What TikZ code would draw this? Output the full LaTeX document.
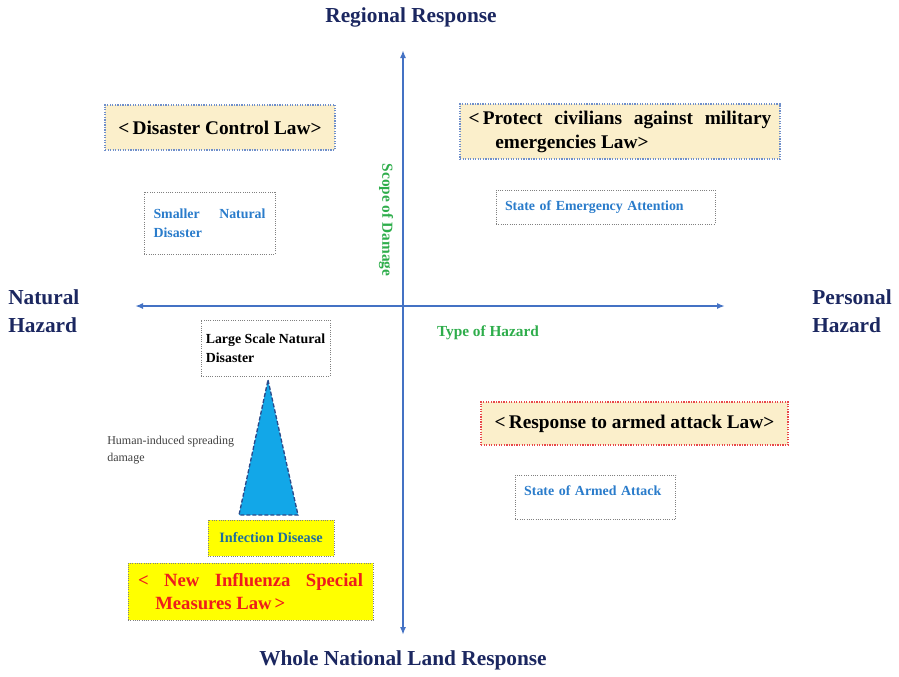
\documentclass[tikz,border=0pt]{standalone}
\usepackage{fontspec}
\setmainfont{Liberation Serif}
\usepackage{xcolor}
\definecolor{axisBlue}{HTML}{4472C4}
\definecolor{titleNavy}{HTML}{1B2760}
\definecolor{labelGreen}{HTML}{2EAD4B}
\definecolor{stateBlue}{HTML}{2A7CCB}
\definecolor{lawCream}{HTML}{FBEFCB}
\definecolor{lawBorder}{HTML}{6F8FCB}
\definecolor{armedRed}{HTML}{E8484A}
\definecolor{fluYellow}{HTML}{FFFF00}
\definecolor{fluRed}{HTML}{EE1C1C}
\definecolor{triBlue}{HTML}{12A7E8}
\definecolor{triEdge}{HTML}{2B4A8A}
\definecolor{infectTeal}{HTML}{1F6E9E}
\definecolor{softGray}{HTML}{808080}
\definecolor{noteGray}{HTML}{404040}
\usetikzlibrary{arrows.meta}

\begin{document}
\begin{tikzpicture}[x=0.75pt, y=-0.75pt, every node/.style={font=\bfseries},
    lawbox/.style={draw=lawBorder, densely dotted, line width=0.9pt, fill=lawCream, inner sep=0pt,
                   font=\fontsize{14.5}{18}\selectfont\bfseries},
    statebox/.style={draw=softGray, densely dotted, line width=0.7pt, fill=white, inner sep=0pt,
                     text=stateBlue, font=\fontsize{10.4}{14.25}\selectfont\bfseries},
    flubox/.style={draw=softGray, densely dotted, line width=0.7pt, fill=fluYellow, inner sep=0pt},
    endlabel/.style={text=titleNavy, inner sep=0pt, align=left, font=\fontsize{16}{21}\selectfont\bfseries},
    axislabel/.style={text=labelGreen, inner sep=0pt, font=\fontsize{11.5}{14}\selectfont\bfseries},
    axis/.style={{Latex[length=6pt,width=4.5pt]}-{Latex[length=6pt,width=4.5pt]}, axisBlue, line width=1.2pt}]
  \useasboundingbox (0,0) rectangle (899,676);

  % Axes
  \coordinate (vtop) at (403,50);
  \coordinate (vbottom) at (403,635);
  \coordinate (hleft) at (135,306);
  \coordinate (hright) at (725,306);
  \draw[axis] (vtop) -- (vbottom);
  \draw[axis] (hleft) -- (hright);

  \node[endlabel] (regional) at (411,17) {Regional Response};
  \node[endlabel] (national) at (403,660) {Whole National Land Response};
  \node[endlabel, anchor=west] (natural) at (8,311) {Natural\\Hazard};
  \node[endlabel, anchor=west] (personal) at (812,311) {Personal\\Hazard};
  \node[axislabel, rotate=-90] (scope) at (386,220) {Scope of Damage};
  \node[axislabel] (type) at (488,333) {Type of Hazard};

  % Laws
  \node[lawbox, minimum width=172.5pt, minimum height=33.75pt] (controllaw) at (220,127.5)
        {<\,Disaster Control Law>};
  \node[lawbox, minimum width=240pt, minimum height=41.25pt, align=left] (civilianlaw) at (620,131.5)
        {\makebox[227pt][s]{<\,Protect civilians against military}\\\hspace*{20pt}emergencies Law>};
  \node[lawbox, draw=armedRed, minimum width=230.25pt, minimum height=32.25pt] (armedlaw) at (634.5,423.5)
        {<\,Response to armed attack Law>};

  % States
  \node[statebox, minimum width=98.25pt, minimum height=46.5pt, align=left] (smaller) at (209.5,223)
        {\makebox[84pt][s]{Smaller Natural}\\Disaster};
  \node[statebox, minimum height=25.5pt, text width=150.75pt, inner xsep=6.75pt, align=left] (emergency) at (605.5,207)
        {State of Emergency Attention};
  \node[statebox, text=black, minimum width=96.75pt, minimum height=42pt, align=left] (large) at (265.5,348)
        {Large Scale Natural\\Disaster};
  \node[statebox, text width=107pt, inner xsep=6.75pt, inner ysep=3pt, text height=12pt, text depth=15pt, align=left]
        (armed) at (595.5,497) {State of Armed Attack};

  % Spreading damage
  \coordinate (apex) at (268,380);
  \coordinate (baseleft) at (239,515);
  \coordinate (baseright) at (298,515);
  \draw[fill=triBlue, draw=triEdge, line width=1pt, dash pattern=on 3pt off 1.5pt] (apex) -- (baseright) -- (baseleft) -- cycle;
  \node[anchor=west, inner sep=0pt, align=left, text=noteGray, font=\fontsize{9}{12.75}\selectfont] (human) at (107,450.5)
        {Human-induced spreading\\damage};

  \node[flubox, minimum width=94.5pt, minimum height=27pt, text=infectTeal, font=\fontsize{10.7}{13}\selectfont\bfseries]
        (infection) at (271,538) {Infection Disease};
  \node[flubox, minimum width=183.75pt, minimum height=42.75pt, align=left, text=fluRed,
        font=\fontsize{14}{17.25}\selectfont\bfseries] (flulaw) at (250.5,591.5)
        {\makebox[168.75pt][s]{< New Influenza Special}\\\hspace*{13pt}Measures Law\,>};
\end{tikzpicture}
\end{document}
